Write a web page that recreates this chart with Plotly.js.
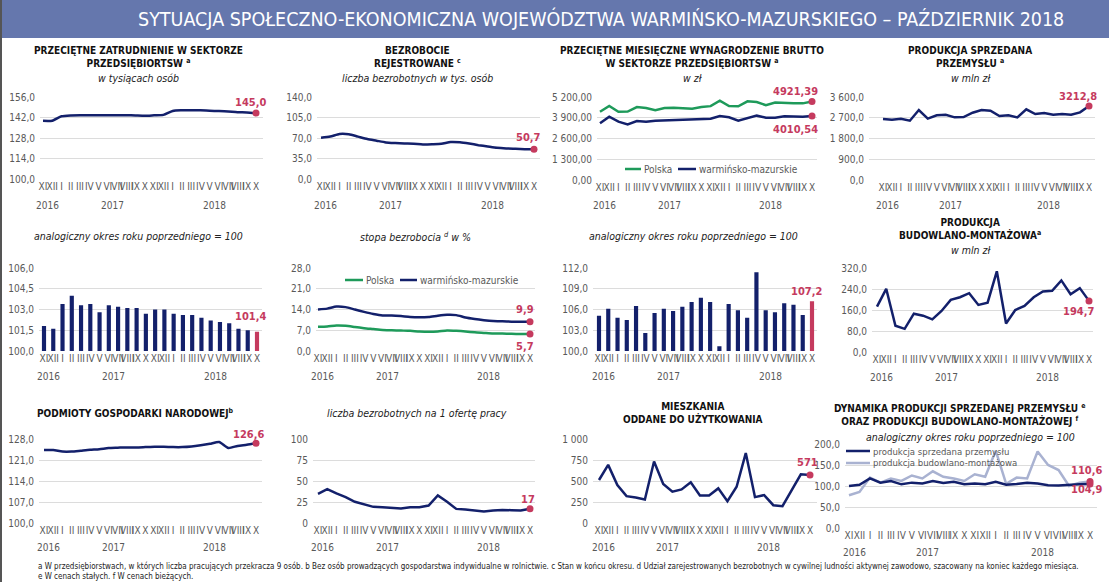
<!DOCTYPE html>
<html><head><meta charset="utf-8">
<script src="https://cdn.plot.ly/plotly-3.0.1.min.js"></script>
<style>html,body{margin:0;padding:0;background:#fff}#chart{width:1109px;height:582px}</style>
</head><body><div id="chart"></div>
<script>
// ---------- categories ----------
const periods = ['XI 2016','XII 2016','I 2017','II 2017','III 2017','IV 2017','V 2017','VI 2017','VII 2017','VIII 2017','IX 2017','X 2017','XI 2017','XII 2017','I 2018','II 2018','III 2018','IV 2018','V 2018','VI 2018','VII 2018','VIII 2018','IX 2018','X 2018'];
const monthLabels = ['XI','XII','I','II','III','IV','V','VI','VII','VIII','IX','X','XI','XII','I','II','III','IV','V','VI','VII','VIII','IX','X'];
const years = ['2016','2017','2018'];

// ---------- series ----------
const employment = [139.7,139.8,142.8,143.4,143.5,143.5,143.6,143.6,143.6,143.6,143.4,143.2,143.5,143.8,146.5,146.9,146.9,146.9,146.6,146.4,146.1,145.6,145.5,145.0];
const unemployed = [70.5,72.5,76.8,76.3,72.3,68.3,65.4,62.5,61.4,60.7,60.2,59.0,59.3,60.0,63.2,62.7,60.5,57.8,55.5,53.3,52.2,51.6,51.0,50.7];
const wagePoland = [4277,4635,4278,4285,4569,4511,4375,4505,4530,4487,4466,4567,4627,4973,4631,4621,4927,4888,4686,4853,4853,4813,4801,4921.39];
const wageWM = [3552,3968,3654,3488,3696,3654,3717,3738,3801,3790,3822,3822,3840,4010,3926,3717,3864,4031,3905,3905,3989,3968,3968,4010.54];
const industrySales = [2645,2616,2660,2573,3036,2660,2804,2833,2717,2732,2920,3036,3007,2775,2804,2717,3065,2862,2905,2833,2862,2833,2934,3212.8];
const employmentDyn = [101.8,101.6,103.4,104.0,103.3,103.4,102.8,103.3,103.2,103.1,103.1,102.7,103.0,103.0,102.7,102.6,102.6,102.4,102.2,102.1,102.0,101.6,101.5,101.4];
const rateWM = [14.0,14.3,15.0,14.8,14.0,13.2,12.5,12.0,12.0,11.8,11.5,11.4,11.5,11.9,12.2,12.1,11.3,10.8,10.4,10.1,10.0,9.9,9.9,9.9];
const ratePoland = [8.2,8.3,8.6,8.5,8.1,7.7,7.4,7.1,7.0,6.9,6.8,6.6,6.5,6.6,6.9,6.8,6.6,6.3,6.1,5.9,5.9,5.8,5.7,5.7];
const wageDyn = [105.1,106.1,104.8,104.5,106.5,102.6,105.5,106.1,105.8,106.4,107.1,107.7,107.1,100.7,106.8,105.9,104.8,111.4,105.9,105.6,106.9,106.7,105.2,107.2];
const construction = [172.8,240.7,99.9,88.3,146.0,138.3,124.2,156.2,198.5,208.7,224.0,179.3,188.2,307.3,108.8,160.0,175.4,208.7,230.5,233.0,272.7,220.2,243.3,194.7];
const entities = [124.3,124.3,123.8,123.8,124.1,124.4,124.6,125.0,125.1,125.2,125.2,125.3,125.4,125.4,125.3,125.3,125.5,125.9,126.4,127.0,125.0,125.7,126.1,126.6];
const perOffer = [34.8,40.4,35.2,30.8,25.2,22.0,19.2,18.8,18.0,17.2,18.8,18.8,20.8,32.8,25.2,16.8,16.0,14.8,13.6,14.8,15.6,15.2,14.8,17];
const dwellings = [512,692,452,320,304,280,732,464,372,400,484,328,328,412,260,432,832,308,332,212,200,392,580,571];
const industryDyn = [100,103,118,108,112,104,108,106,112,107,110,104,106,104,110,103,105,108,106,102,101,103,104,104.9];
const constructionDyn = [78,86,120,108,118,112,125,118,135,122,118,112,128,122,184,105,120,118,182,150,138,100,108,110.6];

// ---------- styling ----------
const W = 1109, H = 582;
const fx = p => p / W, fy = p => 1 - p / H;
const NARROW = '"Liberation Sans Narrow", "DejaVu Sans Condensed", "Roboto Condensed", Roboto, sans-serif';
const NAVY = '#13206b', GREEN = '#1e9a5a', RED = '#c53a5e', LIGHT = '#a9b2d1', GRID = '#dcdcdc', TICK = '#595959';

const data = [], annotations = [], shapes = [];
const layout = {
  width: W, height: H, margin: {l: 0, r: 0, t: 0, b: 0},
  separators: ', ', showlegend: false, paper_bgcolor: '#fff', plot_bgcolor: 'rgba(0,0,0,0)',
  font: {family: NARROW, color: TICK, size: 10}
};

function fmt(v, d) { return v.toFixed(d).replace('.', ','); }

function panel(i, g, yr) {
  const s = i === 1 ? '' : String(i);
  const step = (g.last - g.first) / 23;
  layout['xaxis' + s] = {
    domain: [fx(g.x0), fx(g.x1)], anchor: 'y' + s, type: 'category',
    range: [-(g.first - g.x0) / step, 23 + (g.x1 - g.last) / step],
    tickmode: 'array', tickvals: periods, ticktext: monthLabels, tickangle: 0,
    showgrid: false, zeroline: false, showline: false, ticks: '',
    tickfont: {size: 10, color: TICK, family: NARROW}, fixedrange: true
  };
  layout['yaxis' + s] = {
    domain: [fy(g.y1), fy(g.y0)], anchor: 'x' + s, range: [yr.min, yr.max],
    tick0: yr.min, dtick: yr.dtick, tickformat: yr.fmt, gridcolor: GRID, gridwidth: 1,
    zeroline: false, showline: false, ticks: '', ticklabelstandoff: 4,
    tickfont: {size: 10, color: TICK, family: NARROW}, fixedrange: true
  };
  years.forEach(y => {
    const idx = periods.map((p, k) => p.endsWith(y) ? k : -1).filter(k => k >= 0);
    const c = (idx[0] + idx[idx.length - 1]) / 2;
    annotations.push({xref: 'x' + s, yref: 'paper', x: c, y: fy(g.yearY), text: y, showarrow: false,
      font: {size: 10, color: TICK, family: NARROW}, xanchor: 'center', yanchor: 'middle'});
  });
  return s;
}

function line(s, y, color, shape) {
  data.push({type: 'scatter', mode: 'lines', x: periods, y: y, xaxis: 'x' + s, yaxis: 'y' + s,
    line: {color: color, width: 2.5, shape: shape || 'linear', smoothing: 0.6}, hoverinfo: 'skip'});
}
function endMarker(s, y) {
  data.push({type: 'scatter', mode: 'markers', x: [periods[periods.length - 1]], y: [y[y.length - 1]],
    xaxis: 'x' + s, yaxis: 'y' + s, marker: {color: RED, size: 7}, hoverinfo: 'skip', cliponaxis: false});
}
function bars(s, y) {
  data.push({type: 'bar', x: periods, y: y, xaxis: 'x' + s, yaxis: 'y' + s, width: 0.45,
    marker: {color: y.map((v, k) => k === y.length - 1 ? RED : NAVY)}, hoverinfo: 'skip'});
}
function valueLabel(s, y, dec, dx, dy) {
  annotations.push({xref: 'x' + s, yref: 'y' + s, x: periods[periods.length - 1], y: y[y.length - 1],
    text: '<b>' + fmt(y[y.length - 1], dec) + '</b>', showarrow: false, xshift: dx, yshift: -dy,
    xanchor: 'center', yanchor: 'middle', font: {size: 11, color: RED, family: NARROW}});
}
function title(x, y, text, size) {
  annotations.push({xref: 'paper', yref: 'paper', x: fx(x), y: fy(y), text: '<b>' + text + '</b>', showarrow: false,
    xanchor: 'center', yanchor: 'middle', font: {size: size || 10, color: '#111', family: NARROW}});
}
function subtitle(x, y, text) {
  annotations.push({xref: 'paper', yref: 'paper', x: fx(x), y: fy(y), text: '<i>' + text + '</i>', showarrow: false,
    xanchor: 'center', yanchor: 'middle', font: {size: 10.5, color: '#222', family: NARROW}});
}
function legendItem(x, y, len, color, text, size) {
  shapes.push({type: 'line', xref: 'paper', yref: 'paper', x0: fx(x), x1: fx(x + len), y0: fy(y), y1: fy(y),
    line: {color: color, width: 2.5}});
  annotations.push({xref: 'paper', yref: 'paper', x: fx(x + len + 1), y: fy(y), text: text, showarrow: false,
    xanchor: 'left', yanchor: 'middle', font: {size: size || 10, color: TICK, family: NARROW}});
}

// ---------- header ----------
shapes.push({type: 'rect', xref: 'paper', yref: 'paper', x0: 0, x1: 1, y0: fy(38), y1: 1, fillcolor: '#6577ad', line: {width: 0}, layer: 'below'});
shapes.push({type: 'rect', xref: 'paper', yref: 'paper', x0: 0, x1: fx(2), y0: 0, y1: 1, fillcolor: '#555', line: {width: 0}});
annotations.push({xref: 'paper', yref: 'paper', x: fx(601), y: fy(19), text: 'SYTUACJA SPOŁECZNO-EKONOMICZNA WOJEWÓDZTWA WARMIŃSKO-MAZURSKIEGO – PAŹDZIERNIK 2018',
  showarrow: false, xanchor: 'center', yanchor: 'middle', font: {size: 19.5, color: '#fff', family: NARROW}});

// ---------- row 1 ----------
let s = panel(1, {x0: 40, x1: 263, y0: 97, y1: 179, first: 43, last: 256, yearY: 205}, {min: 100, max: 156, dtick: 14, fmt: '.1f'});
title(138, 57, 'PRZECIĘTNE ZATRUDNIENIE W SEKTORZE<br>PRZEDSIĘBIORTSW <sup>a</sup>');
subtitle(138, 78, 'w tysiącach osób');
line(s, employment, NAVY, 'spline'); endMarker(s, employment); valueLabel(s, employment, 1, -6, -11);

s = panel(2, {x0: 317, x1: 540, y0: 97, y1: 179, first: 321, last: 534, yearY: 205}, {min: 0, max: 140, dtick: 35, fmt: '.1f'});
title(417, 57, 'BEZROBOCIE<br>REJESTROWANE <sup>c</sup>');
subtitle(417, 78, 'liczba bezrobotnych w tys. osób');
line(s, unemployed, NAVY, 'spline'); endMarker(s, unemployed); valueLabel(s, unemployed, 1, -6, -12);

s = panel(3, {x0: 597, x1: 817, y0: 97, y1: 180, first: 600, last: 812, yearY: 205}, {min: 0, max: 5200, dtick: 1300, fmt: ',.2f'});
title(692, 57, 'PRZECIĘTNE MIESIĘCZNE WYNAGRODZENIE BRUTTO<br>W SEKTORZE PRZEDSIĘBIORTSW <sup>a</sup>');
subtitle(692, 78, 'w zł');
line(s, wagePoland, GREEN); line(s, wageWM, NAVY);
endMarker(s, wagePoland); endMarker(s, wageWM);
valueLabel(s, wagePoland, 2, -17, -10); valueLabel(s, wageWM, 2, -17, 14);
legendItem(625, 169, 16, GREEN, 'Polska'); legendItem(678, 169, 18, NAVY, 'warmińsko-mazurskie');

s = panel(4, {x0: 869, x1: 1095, y0: 97, y1: 180, first: 883, last: 1089, yearY: 205}, {min: 0, max: 3600, dtick: 900, fmt: ',.1f'});
title(970, 57, 'PRODUKCJA SPRZEDANA<br>PRZEMYSŁU <sup>a</sup>');
subtitle(970, 78, 'w mln zł');
line(s, industrySales, NAVY); endMarker(s, industrySales); valueLabel(s, industrySales, 1, -11, -9);

// ---------- row 2 ----------
s = panel(5, {x0: 39, x1: 262, y0: 268, y1: 351, first: 44, last: 257, yearY: 376}, {min: 100, max: 106, dtick: 1.5, fmt: '.1f'});
subtitle(138, 236, 'analogiczny okres roku poprzedniego = 100');
bars(s, employmentDyn); valueLabel(s, employmentDyn, 1, -7, -15);

s = panel(6, {x0: 316, x1: 535, y0: 268, y1: 351, first: 318, last: 530, yearY: 376}, {min: 0, max: 28, dtick: 7, fmt: '.1f'});
subtitle(415, 236, 'stopa bezrobocia <sup>d</sup> w %');
line(s, ratePoland, GREEN, 'spline'); line(s, rateWM, NAVY, 'spline');
endMarker(s, ratePoland); endMarker(s, rateWM);
valueLabel(s, rateWM, 1, -5, -12); valueLabel(s, ratePoland, 1, -5, 12);
legendItem(345, 280, 18, GREEN, 'Polska'); legendItem(400, 280, 17, NAVY, 'warmińsko-mazurskie');

s = panel(7, {x0: 593, x1: 817, y0: 268, y1: 351, first: 599, last: 812, yearY: 376}, {min: 100, max: 112, dtick: 3, fmt: '.1f'});
subtitle(693, 236, 'analogiczny okres roku poprzedniego = 100');
bars(s, wageDyn); valueLabel(s, wageDyn, 1, -6, -10);

s = panel(8, {x0: 872, x1: 1093, y0: 268, y1: 352, first: 877, last: 1089, yearY: 377}, {min: 0, max: 320, dtick: 80, fmt: '.1f'});
title(970, 229, 'PRODUKCJA<br>BUDOWLANO-MONTAŻOWA<sup>a</sup>');
subtitle(970, 250, 'w mln zł');
line(s, construction, NAVY); endMarker(s, construction); valueLabel(s, construction, 1, -11, 11);

// ---------- row 3 ----------
s = panel(9, {x0: 39, x1: 262, y0: 439, y1: 523, first: 44, last: 256, yearY: 547}, {min: 100, max: 128, dtick: 7, fmt: '.1f'});
title(135, 413, 'PODMIOTY GOSPODARKI NARODOWEJ<sup>b</sup>');
line(s, entities, NAVY, 'spline'); endMarker(s, entities); valueLabel(s, entities, 1, -8, -9);

s = panel(10, {x0: 313, x1: 535, y0: 439, y1: 523, first: 318, last: 530, yearY: 547}, {min: 0, max: 100, dtick: 25, fmt: 'd'});
subtitle(417, 413, 'liczba bezrobotnych na 1 ofertę pracy');
line(s, perOffer, NAVY); endMarker(s, perOffer); valueLabel(s, perOffer, 0, -2, -9);

s = panel(11, {x0: 593, x1: 817, y0: 439, y1: 523, first: 599, last: 810, yearY: 547}, {min: 0, max: 1000, dtick: 250, fmt: ',d'});
title(693, 413, 'MIESZKANIA<br>ODDANE DO UŻYTKOWANIA');
line(s, dwellings, NAVY); endMarker(s, dwellings); valueLabel(s, dwellings, 0, -3, -13);

s = panel(12, {x0: 845, x1: 1097, y0: 444, y1: 528, first: 849, last: 1090, yearY: 552}, {min: 0, max: 200, dtick: 50, fmt: '.1f'});
title(960, 414, 'DYNAMIKA PRODUKCJI SPRZEDANEJ PRZEMYSŁU <sup>e</sup><br>ORAZ PRODUKCJI BUDOWLANO-MONTAŻOWEJ <sup>f</sup>');
subtitle(970, 437, 'analogiczny okres roku poprzedniego = 100');
line(s, constructionDyn, LIGHT); line(s, industryDyn, NAVY);
endMarker(s, constructionDyn); endMarker(s, industryDyn);
valueLabel(s, constructionDyn, 1, -4, -11); valueLabel(s, industryDyn, 1, -4, 6);
legendItem(846, 451, 24, NAVY, 'produkcja sprzedana przemysłu', 9.5);
legendItem(846, 463, 24, LIGHT, 'produkcja budowlano-montażowa', 9.5);

// ---------- footer ----------
annotations.push({xref: 'paper', yref: 'paper', x: fx(36), y: fy(566), xanchor: 'left', yanchor: 'middle', showarrow: false,
  text: 'a W przedsiębiorstwach, w których liczba pracujących przekracza 9 osób. b Bez osób prowadzących gospodarstwa indywidualne w rolnictwie. c Stan w końcu okresu. d Udział zarejestrowanych bezrobotnych w cywilnej ludności aktywnej zawodowo, szacowany na koniec każdego miesiąca.',
  font: {size: 8, color: '#222', family: NARROW}});
annotations.push({xref: 'paper', yref: 'paper', x: fx(36), y: fy(576), xanchor: 'left', yanchor: 'middle', showarrow: false,
  text: 'e W cenach stałych. f W cenach bieżących.', font: {size: 8, color: '#222', family: NARROW}});

layout.annotations = annotations;
layout.shapes = shapes;
Plotly.newPlot('chart', data, layout, {staticPlot: true, displayModeBar: false});
</script>
</body></html>
